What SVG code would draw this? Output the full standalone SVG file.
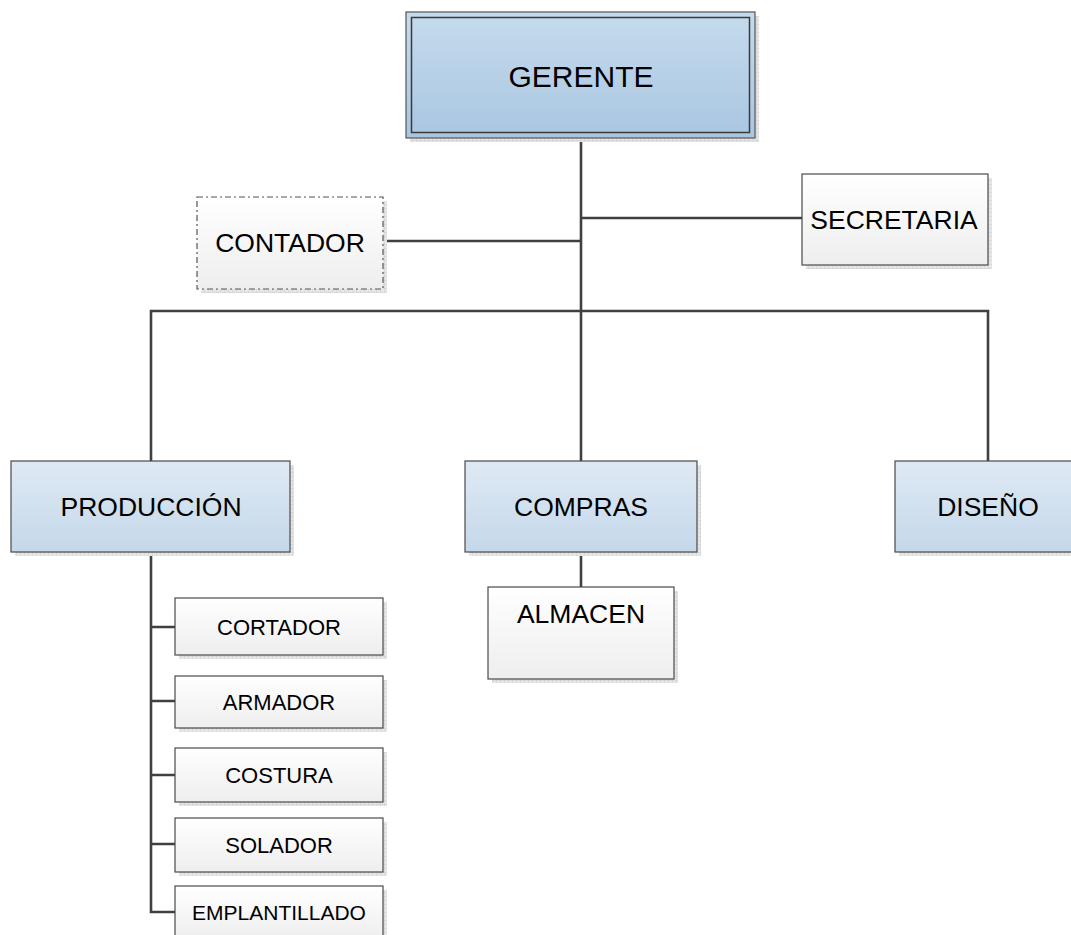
<svg xmlns="http://www.w3.org/2000/svg" width="1071" height="935" viewBox="0 0 1071 935">
<defs>
<linearGradient id="gTop" x1="0" y1="0" x2="0" y2="1"><stop offset="0" stop-color="#c6dbed"/><stop offset="1" stop-color="#a9c6e1"/></linearGradient>
<linearGradient id="gBlue" x1="0" y1="0" x2="0" y2="1"><stop offset="0" stop-color="#dfe9f4"/><stop offset="1" stop-color="#c4d8ea"/></linearGradient>
<linearGradient id="gWhite" x1="0" y1="0" x2="0" y2="1"><stop offset="0" stop-color="#ffffff"/><stop offset="1" stop-color="#eeeeee"/></linearGradient>
<pattern id="hatch" width="4" height="4" patternUnits="userSpaceOnUse"><rect width="4" height="4" fill="#e6e6e6"/><path d="M0 0H4M0 0V4" stroke="#cfcfcf" stroke-width="1"/></pattern>
<style>
.sh{fill:url(#hatch);}
.box{stroke:#4a4a4a;stroke-width:1.2;}
.blue{fill:url(#gBlue);}
.white{fill:url(#gWhite);}
.t{font-family:"Liberation Sans",Arial,sans-serif;fill:#000;text-anchor:middle;}
.big{font-size:26.5px;}
.sm{font-size:22px;}
.con{fill:none;stroke:#404040;stroke-width:2.6;}
</style>
</defs>
<rect width="1071" height="935" fill="#ffffff"/>

<g id="connectors">
<path class="con" d="M581 138V311"/>
<path class="con" d="M581 218H802"/>
<path class="con" d="M383 241H581"/>
<path class="con" d="M151 461V311H988V461"/>
<path class="con" d="M581 311V461"/>
<path class="con" d="M581 552V587"/>
<path class="con" d="M151 552V912H175"/>
<path class="con" d="M151 627H175M151 701H175M151 775H175M151 844H175"/>
</g>

<g id="gerente">
<rect class="sh" x="410" y="16" width="349" height="126"/>
<rect x="406" y="12" width="349" height="126" fill="url(#gTop)" stroke="#555" stroke-width="1.2"/>
<rect x="411.5" y="17.5" width="338" height="115" fill="none" stroke="#3a3a3a" stroke-width="1.5"/>
<text class="t" x="581" y="87" font-size="30">GERENTE</text>
</g>

<g id="contador">
<rect class="sh" x="201" y="201" width="186" height="92"/>
<rect x="197" y="197" width="186" height="92" class="white" stroke="#555" stroke-width="1.2" stroke-dasharray="6,3,2,3"/>
<text class="t big" x="290" y="252">CONTADOR</text>
</g>

<g id="secretaria">
<rect class="sh" x="806" y="178" width="186" height="91"/>
<rect x="802" y="174" width="186" height="91" class="white box"/>
<text class="t big" x="894" y="229">SECRETARIA</text>
</g>

<g id="produccion">
<rect class="sh" x="15" y="465" width="279" height="91"/>
<rect x="11" y="461" width="279" height="91" class="blue box"/>
<text class="t big" x="151" y="516">PRODUCCIÓN</text>
</g>

<g id="compras">
<rect class="sh" x="469" y="465" width="232" height="91"/>
<rect x="465" y="461" width="232" height="91" class="blue box"/>
<text class="t big" x="581" y="516">COMPRAS</text>
</g>

<g id="diseno">
<rect class="sh" x="899" y="465" width="180" height="91"/>
<rect x="895" y="461" width="180" height="91" class="blue box"/>
<text class="t big" x="988" y="516">DISEÑO</text>
</g>

<g id="almacen">
<rect class="sh" x="492" y="591" width="186" height="92"/>
<rect x="488" y="587" width="186" height="92" class="white box"/>
<text class="t big" x="581" y="623">ALMACEN</text>
</g>

<g id="cortador">
<rect class="sh" x="179" y="602" width="208" height="57"/>
<rect x="175" y="598" width="208" height="57" class="white box"/>
<text class="t sm" x="279" y="635">CORTADOR</text>
</g>

<g id="armador">
<rect class="sh" x="179" y="680" width="208" height="52"/>
<rect x="175" y="676" width="208" height="52" class="white box"/>
<text class="t sm" x="279" y="710">ARMADOR</text>
</g>

<g id="costura">
<rect class="sh" x="179" y="752" width="208" height="54"/>
<rect x="175" y="748" width="208" height="54" class="white box"/>
<text class="t sm" x="279" y="783">COSTURA</text>
</g>

<g id="solador">
<rect class="sh" x="179" y="822" width="208" height="54"/>
<rect x="175" y="818" width="208" height="54" class="white box"/>
<text class="t sm" x="279" y="853">SOLADOR</text>
</g>

<g id="emplantillado">
<rect class="sh" x="179" y="890" width="208" height="54"/>
<rect x="175" y="886" width="208" height="54" class="white box"/>
<text class="t" x="279" y="920" font-size="21">EMPLANTILLADO</text>
</g>
</svg>
